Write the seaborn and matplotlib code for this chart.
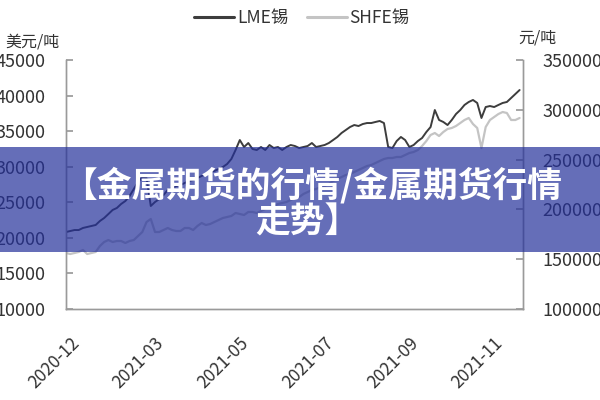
import matplotlib
matplotlib.use("Agg")
import matplotlib.pyplot as plt
import matplotlib.transforms as mtransforms
from matplotlib.lines import Line2D
from matplotlib.patches import Rectangle
import pandas as pd
import seaborn as sns

# ---------------- data ----------------
tick_labels = ["2020-12", "2021-03", "2021-05", "2021-07", "2021-09", "2021-11"]
tick_index = [0, 20, 40, 60, 80, 100]

lme_tin = [20820, 20960, 21100, 21100, 21390, 21530, 21670, 21810, 22370, 22790,
           23350, 23920, 24200, 24760, 25180, 25880, 26870, 27850, 28550, 28410,
           24480, 25040, 25460, 26020, 26730, 27010, 27290, 27430, 27710, 27990,
           28130, 28410, 28700, 28980, 29260, 29400, 29680, 29960, 30380, 31080,
           32350, 33750, 32770, 33330, 32490, 32350, 32770, 32350, 33050, 32630,
           32770, 32350, 32770, 33050, 32910, 32630, 32770, 32910, 33330, 32770,
           32910, 33050, 33330, 33750, 34180, 34740, 35160, 35580, 35860, 35720,
           36000, 36140, 36140, 36290, 36430, 36140, 32770, 32630, 33610, 34180,
           33750, 32770, 33050, 33610, 34040, 34880, 35580, 37970, 36570, 36290,
           35860, 36570, 37410, 37970, 38680, 39100, 39380, 38960, 36850, 38390,
           38530, 38390, 38680, 38960, 39100, 39660, 40220, 40780]

shfe_tin = [156230, 155220, 156230, 157230, 159240, 155220, 156230, 157230, 163260, 167270,
            169280, 167270, 168280, 168280, 166270, 168280, 169280, 173300, 177310, 187350,
            190360, 177310, 177310, 179320, 181330, 179320, 178320, 178320, 181330, 181330,
            179320, 183340, 186350, 184340, 185340, 187350, 189360, 191370, 192370, 193380,
            196390, 195380, 194380, 197390, 197390, 196390, 198400, 200400, 202410, 203420,
            205420, 206430, 207430, 209440, 211450, 212450, 215460, 217470, 219480, 220480,
            222490, 223500, 225500, 228520, 230520, 232530, 234540, 235540, 237550, 239560,
            241570, 243580, 244580, 246590, 248600, 250600, 251610, 251610, 252610, 252610,
            254620, 256630, 257630, 259640, 263660, 268680, 274700, 276710, 273700, 277710,
            280720, 281730, 283740, 286750, 289760, 291770, 285740, 281730, 261650, 282730,
            289760, 292770, 295780, 297790, 296790, 289760, 289760, 291770]

df = pd.DataFrame({"idx": list(range(len(lme_tin))), "LME": lme_tin, "SHFE": shfe_tin})

# ---------------- style ----------------
sns.set_theme(style="white")
plt.rcParams["font.family"] = ["Noto Sans CJK SC", "DejaVu Sans"]

LME_COLOR = "#3d3d3d"
SHFE_COLOR = "#c4c4c4"
SPINE = "#9a9a9a"
TXT = "#333333"

fig = plt.figure(figsize=(6, 4), dpi=100)
ax = fig.add_axes([66 / 600, 1 - 309 / 400, (523 - 66) / 600, (309 - 60) / 400])
ax2 = ax.twinx()

sns.lineplot(data=df, x="idx", y="SHFE", ax=ax2, color=SHFE_COLOR, linewidth=1.6, legend=False)
sns.lineplot(data=df, x="idx", y="LME", ax=ax, color=LME_COLOR, linewidth=1.4, legend=False)
ax.set_zorder(ax2.get_zorder() + 1)
ax.patch.set_visible(False)

ax.set_xlim(0, 107.8)
ax.set_ylim(10000, 45000)
ax2.set_ylim(100000, 350000)
ax.set_yticks(range(10000, 45001, 5000))
ax2.set_yticks(range(100000, 350001, 50000))
ax.set_xticks(tick_index)
ax.set_xticklabels(tick_labels)
for a in (ax, ax2):
    a.set_xlabel("")
    a.set_ylabel("")
    for s in a.spines.values():
        s.set_color(SPINE)
        s.set_linewidth(1.0)
    a.spines["top"].set_visible(False)

ax.tick_params(axis="y", direction="in", length=5, color=SPINE, pad=15, labelsize=13, labelcolor=TXT)
ax2.tick_params(axis="y", direction="in", length=5, color=SPINE, pad=14, labelsize=13, labelcolor=TXT)
ax.tick_params(axis="x", direction="in", length=6, color=SPINE, pad=18, labelsize=12.5, labelcolor=TXT)

offset = mtransforms.ScaledTranslation(4 / 100, 0, fig.dpi_scale_trans)
for lab in ax.get_xticklabels():
    lab.set_rotation(45)
    lab.set_ha("right")
    lab.set_va("top")
    lab.set_rotation_mode("anchor")
    lab.set_transform(lab.get_transform() + offset)

# unit labels
fig.text(5 / 600, 1 - 42 / 400, "美元/吨", fontsize=11.5, color=TXT, ha="left", va="center")
fig.text(518 / 600, 1 - 38 / 400, "元/吨", fontsize=11.5, color=TXT, ha="left", va="center")

# legend
handles = [Line2D([], [], color=LME_COLOR, linewidth=2.2),
           Line2D([], [], color=SHFE_COLOR, linewidth=2.2)]
fig.legend(handles, ["LME锡", "SHFE锡"], loc="center", bbox_to_anchor=(302 / 600, 1 - 18 / 400),
           ncol=2, frameon=False, fontsize=12.5, handlelength=2.3, handletextpad=0.15,
           columnspacing=1.1, labelcolor=TXT)

# overlay banner
banner = Rectangle((0, 1 - 252 / 400), 1, (252 - 147) / 400, transform=fig.transFigure,
                   facecolor=(36 / 255, 48 / 255, 154 / 255), alpha=0.7, edgecolor="none", zorder=10)
fig.add_artist(banner)
fig.text(312 / 600, 1 - 185 / 400, "【金属期货的行情/金属期货行情", fontsize=25, fontweight="bold",
         color="white", ha="center", va="center", zorder=11)
fig.text(307 / 600, 1 - 222 / 400, "走势】", fontsize=25, fontweight="bold",
         color="white", ha="center", va="center", zorder=11)

fig.savefig("out.png", dpi=100)
